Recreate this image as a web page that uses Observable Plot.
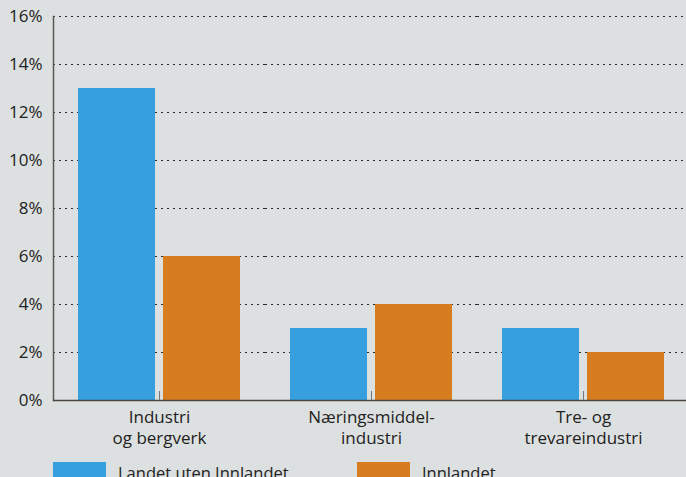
<!DOCTYPE html>
<html>
<head>
<meta charset="utf-8">
<script src="https://cdn.jsdelivr.net/npm/d3@7"></script>
<script src="https://cdn.jsdelivr.net/npm/@observablehq/plot@0.6"></script>
<style>
  html, body { margin: 0; padding: 0; background: #dde0e0; }
  body { width: 686px; height: 477px; overflow: hidden; font-family: "Open Sans", sans-serif; color: #222; }
  #legend { font-size: 16px; }
  .item { display: flex; align-items: flex-start; line-height: 20px; }
  .sw { width: 53px; height: 18px; margin-right: 12px; }
</style>
</head>
<body>
<div id="chart"></div>
<div id="legend"></div>
<script>
const categories = ["Industri\nog bergverk", "Næringsmiddel-\nindustri", "Tre- og\ntrevareindustri"];
const series = ["Landet uten Innlandet", "Innlandet"];
const landetUtenInnlandet = [13, 3, 3];
const innlandet = [6, 4, 2];
const colors = ["#36a0df", "#d77d1f"];
const yTicks = [0, 2, 4, 6, 8, 10, 12, 14, 16];

const data = [];
categories.forEach((c, i) => {
  data.push({cat: c, series: series[0], value: landetUtenInnlandet[i]});
  data.push({cat: c, series: series[1], value: innlandet[i]});
});

const chart = Plot.plot({
  width: 686,
  height: 455,
  marginLeft: 53,
  marginRight: -3,
  marginTop: 16,
  marginBottom: 55,
  style: {background: "transparent", fontFamily: "Open Sans, sans-serif", fontSize: "16px", color: "#222"},
  fx: {domain: categories, padding: 0, label: null},
  x: {domain: series, paddingInner: 0.094, paddingOuter: 0.294, axis: null},
  y: {domain: [0, 16], label: null},
  color: {domain: series, range: colors},
  marks: [
    Plot.gridY(yTicks.filter(d => d > 0), {stroke: "#2a2a2a", strokeOpacity: 1, strokeWidth: 1.2, strokeDasharray: "2,4"}),
    Plot.axisY(yTicks, {tickSize: 0, tickPadding: 11, tickFormat: d => d + "%", fontSize: 17, label: null, fill: "#222"}),
    Plot.barY(data, {fx: "cat", x: "series", y: "value", fill: "series"}),
    Plot.frame({anchor: "left", facetAnchor: "left", stroke: "#5a5750", strokeWidth: 1.5}),
    Plot.ruleY([0], {stroke: "#4a4740", strokeWidth: 1.5}),
    Plot.axisFx({anchor: "bottom", tickSize: -9, tickPadding: 16, stroke: "#777", fontSize: 17, lineHeight: 1.25, label: null, fill: "#222"})
  ]
});
document.getElementById("chart").append(chart);

const legend = document.getElementById("legend");
const offsets = [53, 357];
series.forEach((s, i) => {
  const item = document.createElement("div");
  item.className = "item";
  item.style.position = "absolute";
  item.style.left = offsets[i] + "px";
  item.style.top = "462px";
  const sw = document.createElement("div");
  sw.className = "sw";
  sw.style.background = colors[i];
  const t = document.createElement("span");
  t.textContent = s;
  t.style.fontSize = "16.5px";
  t.style.marginTop = "1px";
  item.append(sw, t);
  legend.append(item);
});
</script>
</body>
</html>
